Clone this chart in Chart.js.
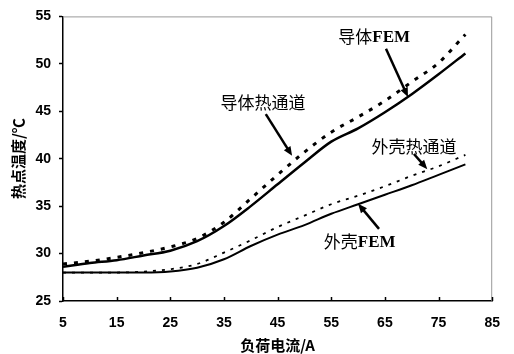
<!DOCTYPE html>
<html>
<head>
<meta charset="utf-8">
<script src="https://cdn.jsdelivr.net/npm/chart.js@4/dist/chart.umd.min.js"></script>
<style>
  html, body { margin: 0; padding: 0; background: #fff; }
  #wrap { width: 514px; height: 354px; }
</style>
</head>
<body>
<div id="wrap"><canvas id="c" width="514" height="354"></canvas></div>
<script>
// 负荷电流 (A)
const currents = [5, 10, 15, 20, 25, 30, 35, 40, 45, 50, 55, 60, 65, 70, 75, 80]
// 导体 (实线 / 虚线)
const condSolid = [28.6, 29.0, 29.3, 29.8, 30.3, 31.3, 32.9, 35.0, 37.3, 39.6, 41.8, 43.2, 44.9, 46.8, 48.9, 51.1]
const condDash = [28.9, 29.2, 29.6, 30.1, 30.7, 31.6, 33.3, 35.8, 38.3, 40.7, 42.8, 44.4, 46.1, 48.1, 50.1, 53.1]
// 外壳 (实线 / 虚线)
const shellSolid = [28.0, 28.0, 28.0, 28.0, 28.1, 28.5, 29.4, 30.8, 32.0, 33.0, 34.2, 35.2, 36.2, 37.2, 38.3, 39.4]
const shellDash = [28.0, 28.0, 28.0, 28.1, 28.35, 28.9, 30.1, 31.4, 32.8, 34.0, 35.2, 36.1, 37.1, 38.2, 39.2, 40.4]
const xTicks = [5, 15, 25, 35, 45, 55, 65, 75, 85]
const yTicks = [25, 30, 35, 40, 45, 50, 55]

// 标注: 文字位置和箭头 (数据坐标)
const notes = [
  { cn: '导体', en: 'FEM', x: 63.0, y: 52.9, from: [65.2, 51.6], to: [69.3, 46.5] },
  { cn: '导体热通道', en: '', x: 42.3, y: 45.9, from: [42.8, 44.7], to: [47.7, 40.3] },
  { cn: '外壳热通道', en: '', x: 70.4, y: 41.3, from: [70.4, 40.5], to: [72.9, 38.9] },
  { cn: '外壳', en: 'FEM', x: 60.3, y: 31.3, from: [63.9, 32.6], to: [60.0, 35.25] },
]

const pts = (ys) => currents.map((x, i) => ({ x: x, y: ys[i] }))

const numFont = { family: 'Liberation Sans', size: 14, weight: 'bold' }
const cnFont = "17px 'Noto Sans CJK SC', sans-serif"
const enFont = "bold 17px 'Liberation Serif', serif"

// 坐标框, 内刻度, 标注
const extras = {
  id: 'extras',
  beforeDatasetsDraw(chart) {
    const { ctx, chartArea: a } = chart
    ctx.save()
    ctx.strokeStyle = '#999'
    ctx.lineWidth = 1
    ctx.beginPath()
    ctx.moveTo(a.left, a.top + 0.5)
    ctx.lineTo(a.right - 0.5, a.top + 0.5)
    ctx.lineTo(a.right - 0.5, a.bottom)
    ctx.stroke()
    // x 轴刻度朝内
    const xs = chart.scales.x
    ctx.strokeStyle = '#000'
    ctx.lineWidth = 1.5
    xTicks.forEach((v) => {
      const px = Math.round(xs.getPixelForValue(v)) + 0.5
      ctx.beginPath()
      ctx.moveTo(px, a.bottom)
      ctx.lineTo(px, a.bottom - 4)
      ctx.stroke()
    })
    ctx.restore()
  },
  afterDraw(chart) {
    const { ctx } = chart
    const xs = chart.scales.x
    const ys = chart.scales.y
    ctx.save()
    ctx.fillStyle = '#000'
    ctx.strokeStyle = '#000'
    ctx.textAlign = 'left'
    ctx.textBaseline = 'middle'
    notes.forEach((n) => {
      ctx.font = cnFont
      const w1 = ctx.measureText(n.cn).width
      ctx.font = enFont
      const w2 = n.en ? ctx.measureText(n.en).width : 0
      const cx = xs.getPixelForValue(n.x)
      const cy = ys.getPixelForValue(n.y)
      const x0 = cx - (w1 + w2) / 2
      ctx.font = cnFont
      ctx.fillText(n.cn, x0, cy)
      if (n.en) {
        ctx.font = enFont
        ctx.fillText(n.en, x0 + w1, cy + 1)
      }
      const x1 = xs.getPixelForValue(n.from[0])
      const y1 = ys.getPixelForValue(n.from[1])
      const x2 = xs.getPixelForValue(n.to[0])
      const y2 = ys.getPixelForValue(n.to[1])
      const ang = Math.atan2(y2 - y1, x2 - x1)
      const hl = 10
      ctx.lineWidth = 2.5
      ctx.beginPath()
      ctx.moveTo(x1, y1)
      ctx.lineTo(x2 - Math.cos(ang) * hl * 0.7, y2 - Math.sin(ang) * hl * 0.7)
      ctx.stroke()
      ctx.beginPath()
      ctx.moveTo(x2, y2)
      ctx.lineTo(x2 - hl * Math.cos(ang - 0.4), y2 - hl * Math.sin(ang - 0.4))
      ctx.lineTo(x2 - hl * Math.cos(ang + 0.4), y2 - hl * Math.sin(ang + 0.4))
      ctx.closePath()
      ctx.fill()
    })
    ctx.restore()
  },
}

new Chart(document.getElementById('c'), {
  type: 'line',
  data: {
    datasets: [
      { label: '导体FEM', data: pts(condSolid), borderColor: '#000', borderWidth: 2.5 },
      { label: '导体热通道', data: pts(condDash), borderColor: '#000', borderWidth: 3, borderDash: [4, 7] },
      { label: '外壳FEM', data: pts(shellSolid), borderColor: '#000', borderWidth: 2 },
      { label: '外壳热通道', data: pts(shellDash), borderColor: '#000', borderWidth: 1.8, borderDash: [3, 6] },
    ],
  },
  options: {
    responsive: false,
    animation: false,
    events: [],
    layout: { padding: { top: 14, right: 7, left: 9, bottom: 0 } },
    elements: {
      point: { radius: 0 },
      line: { cubicInterpolationMode: 'monotone', fill: false },
    },
    plugins: { legend: { display: false }, tooltip: { enabled: false } },
    scales: {
      x: {
        type: 'linear',
        min: 5,
        max: 85,
        afterBuildTicks: (s) => { s.ticks = xTicks.map((v) => ({ value: v })) },
        afterFit: (s) => { s.height = 53 },
        grid: { display: false, drawTicks: false },
        border: { display: true, color: '#000', width: 1.5 },
        ticks: { color: '#000', font: numFont, padding: 14, maxRotation: 0 },
        title: {
          display: true,
          text: '负荷电流/A',
          color: '#000',
          font: { family: 'Noto Sans CJK SC', size: 15, weight: 'bold' },
          padding: { top: 0, bottom: 0 },
        },
      },
      y: {
        min: 25,
        max: 55,
        afterBuildTicks: (s) => { s.ticks = yTicks.map((v) => ({ value: v })) },
        afterFit: (s) => { s.width = 54 },
        grid: { drawOnChartArea: false, tickLength: 4, color: '#000', tickWidth: 1.5 },
        border: { display: true, color: '#000', width: 1.5 },
        ticks: { color: '#000', font: numFont, padding: 8 },
        title: {
          display: true,
          text: '热点温度/℃',
          color: '#000',
          font: { family: 'Noto Sans CJK SC', size: 15, weight: 'bold' },
          padding: { top: 0, bottom: 0 },
        },
      },
    },
  },
  plugins: [extras],
})
</script>
</body>
</html>
